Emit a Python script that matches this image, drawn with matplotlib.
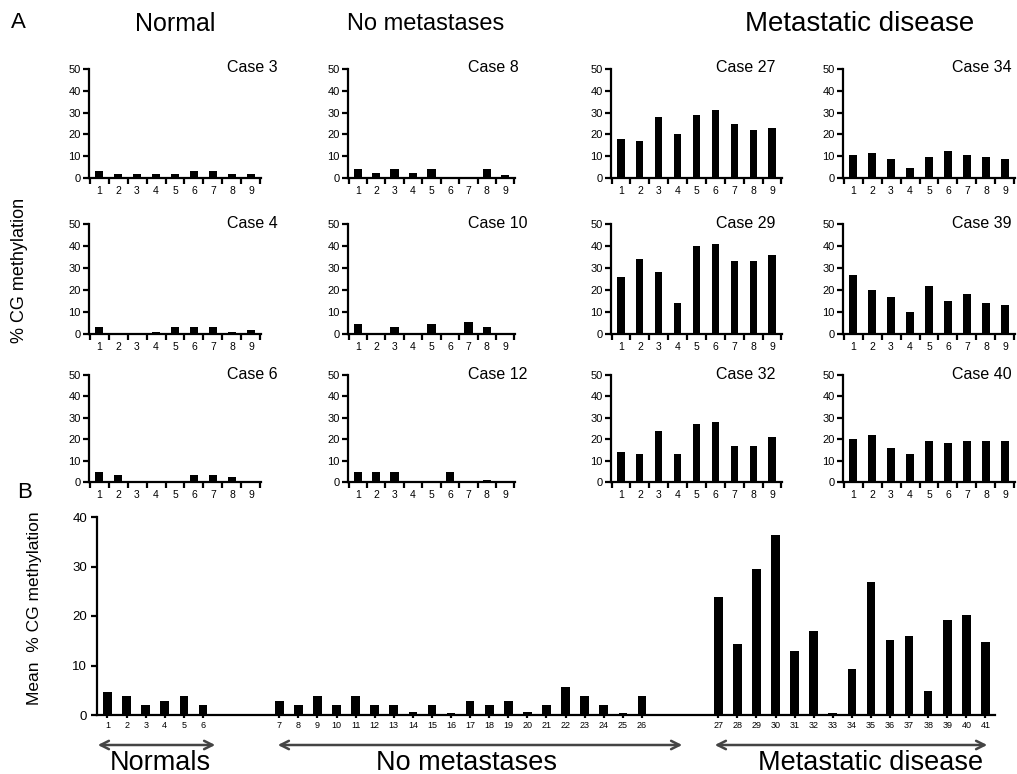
import matplotlib
matplotlib.use("Agg")
import matplotlib.pyplot as plt
import numpy as np

plt.rcParams['font.family'] = ['Liberation Sans', 'DejaVu Sans']

# panel A: % CG methylation at CpG sites 1-9 for each case
sites = [1, 2, 3, 4, 5, 6, 7, 8, 9]
case3 = [3, 2, 2, 2, 2, 3, 3, 2, 2]
case4 = [3, 0, 0, 1, 3, 3, 3, 1, 2]
case6 = [4.5, 3.5, 0, 0, 0, 3.5, 3.5, 2.5, 0]
case8 = [4.3, 2.2, 4.3, 2.2, 4.3, 0, 0, 4.3, 1.3]
case10 = [4.4, 0, 3.4, 0, 4.4, 0, 5.4, 3.4, 0]
case12 = [4.8, 4.8, 4.8, 0, 0, 4.8, 0, 1, 0]
case27 = [18, 17, 28, 20, 29, 31, 25, 22, 23]
case29 = [26, 34, 28, 14, 40, 41, 33, 33, 36]
case32 = [14, 13, 24, 13, 27, 28, 17, 17, 21]
case34 = [10.5, 11.5, 8.5, 4.5, 9.5, 12.5, 10.5, 9.5, 8.5]
case39 = [27, 20, 17, 10, 22, 15, 18, 14, 13]
case40 = [20, 22, 16, 13, 19, 18, 19, 19, 19]

panels = [
    ["Case 3", "Case 8", "Case 27", "Case 34"],
    ["Case 4", "Case 10", "Case 29", "Case 39"],
    ["Case 6", "Case 12", "Case 32", "Case 40"],
]
panel_data = {
    "Case 3": case3, "Case 4": case4, "Case 6": case6,
    "Case 8": case8, "Case 10": case10, "Case 12": case12,
    "Case 27": case27, "Case 29": case29, "Case 32": case32,
    "Case 34": case34, "Case 39": case39, "Case 40": case40,
}

# panel B: mean % CG methylation per case
normal_ids = [1, 2, 3, 4, 5, 6]
normal_mean = [4.7, 3.8, 2.0, 2.9, 3.8, 2.0]
nomet_ids = list(range(7, 27))
nomet_mean = [2.9, 2.0, 3.8, 2.0, 3.8, 2.0, 2.0, 0.7, 2.0, 0.5,
              2.9, 2.0, 2.9, 0.7, 2.0, 5.7, 3.8, 2.0, 0.5, 3.8]
met_ids = list(range(27, 42))
met_mean = [23.8, 14.3, 29.5, 36.4, 12.9, 17.0, 0.5, 9.3, 26.9,
            15.2, 16.0, 4.8, 19.2, 20.2, 14.7]

W, H = 1017, 774
fig = plt.figure(figsize=(W / 100, H / 100), dpi=100)


def box(x0, x1, ytop, ybot):
    return [x0 / W, 1 - ybot / H, (x1 - x0) / W, (ybot - ytop) / H]


cols = [(89, 261), (348, 515), (611, 782), (843, 1015)]
rows = [(69, 178), (224, 334), (375, 482)]
case_x = [227, 468, 716, 952]
widths = [0.45, 0.45, 0.38, 0.38]


def style(ax, lw=1.6):
    for s in ["top", "right"]:
        ax.spines[s].set_visible(False)
    for s in ["left", "bottom"]:
        ax.spines[s].set_linewidth(lw)
    ax.tick_params(width=lw, length=4, direction="out")


for r, (yt, yb) in enumerate(rows):
    for c, (x0, x1) in enumerate(cols):
        name = panels[r][c]
        ax = fig.add_axes(box(x0, x1, yt, yb))
        ax.bar(sites, panel_data[name], width=widths[c], color="black")
        ax.set_xlim(0.47, 9.53)
        ax.set_ylim(0, 50)
        ax.set_yticks([0, 10, 20, 30, 40, 50])
        ax.set_xticks(np.arange(0.5, 10, 1))
        ax.set_xticklabels([])
        ax.set_xticks(sites, minor=True)
        ax.set_xticklabels([str(s) for s in sites], minor=True, fontsize=7.5)
        ax.tick_params(axis="x", which="minor", length=0, pad=6)
        style(ax)
        ax.tick_params(axis="y", labelsize=8, pad=2)
        fig.text(case_x[c] / W, 1 - (yt - 1) / H, name, fontsize=11.5,
                 ha="left", va="center")

# panel B
axb = fig.add_axes(box(97, 995, 517, 715))
gap = 3
pos_n = [i for i in range(len(normal_ids))]
pos_nm = [len(normal_ids) + gap + i for i in range(len(nomet_ids))]
pos_m = [pos_nm[-1] + 1 + gap + i for i in range(len(met_ids))]
positions = pos_n + pos_nm + pos_m
ids = normal_ids + nomet_ids + met_ids
means = normal_mean + nomet_mean + met_mean
axb.bar(positions, means, width=0.45, color="black")
axb.set_xlim(-0.55, positions[-1] + 0.5)
axb.set_ylim(0, 40)
axb.set_yticks([0, 10, 20, 30, 40])
axb.set_xticks(positions)
axb.set_xticklabels([str(i) for i in ids], fontsize=6.5)
style(axb)
axb.tick_params(axis="x", length=2, pad=2)
axb.tick_params(axis="y", labelsize=9.5, pad=3)

# headers and labels
fig.text(18 / W, 1 - 22 / H, "A", fontsize=16, ha="center", va="center")
fig.text(25 / W, 1 - 492 / H, "B", fontsize=16, ha="center", va="center")
fig.text(175 / W, 1 - 24 / H, "Normal", fontsize=18, ha="center", va="center")
fig.text(426 / W, 1 - 24 / H, "No metastases", fontsize=17, ha="center", va="center")
fig.text(860 / W, 1 - 24 / H, "Metastatic disease", fontsize=20, ha="center", va="center")
fig.text(20 / W, 1 - 270 / H, "% CG methylation", fontsize=13, rotation=90,
         ha="center", va="center")
fig.text(35 / W, 1 - 608 / H, "Mean  % CG methylation", fontsize=12.5, rotation=90,
         ha="center", va="center")

# group arrows under panel B
groups = [("Normals", 95, 218, 160), ("No metastases", 275, 685, 466),
          ("Metastatic disease", 712, 990, 871)]
for label, xa, xb, xt in groups:
    fig.add_artist(matplotlib.patches.FancyArrowPatch(
        (xa / W, 1 - 745 / H), (xb / W, 1 - 745 / H),
        transform=fig.transFigure, arrowstyle="<->", mutation_scale=15,
        color="#444444", lw=1.8))
    fig.text(xt / W, 1 - 763 / H, label, fontsize=19.5, ha="center", va="center")

fig.savefig("out.png", dpi=100)
